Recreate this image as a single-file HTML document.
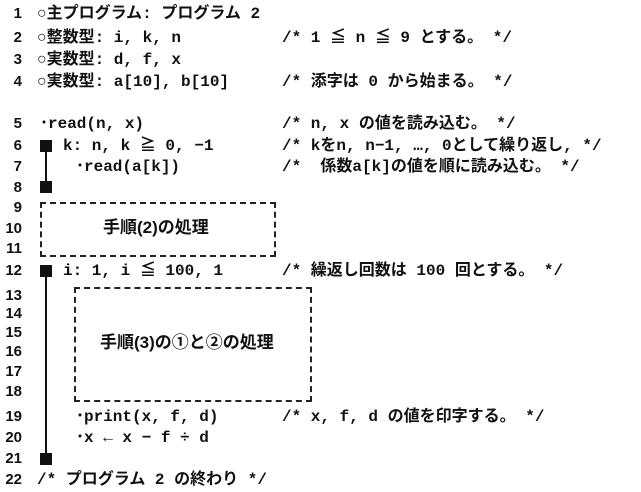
<!DOCTYPE html>
<html><head><meta charset="utf-8"><style>
body{margin:0;width:641px;height:492px;background:#fff;position:relative;overflow:hidden;font-family:"Liberation Mono","Noto Sans CJK JP",monospace;font-weight:bold;color:#111}
.t{position:absolute;font-size:16px;line-height:18px;white-space:pre}
.n{position:absolute;font-family:"Liberation Sans",sans-serif;font-size:15px;line-height:18px;width:22px;text-align:right;left:0}
.sq{position:absolute;left:40px;width:12px;height:12px;background:#111}
.v{position:absolute;left:45px;width:2px;background:#111}
.box{position:absolute;border:2px dashed #222}
.j{font-family:"Liberation Sans","Noto Sans CJK JP",sans-serif;font-size:17px}
</style></head><body>
<div class="n" style="top:5px">1</div>
<div class="n" style="top:29px">2</div>
<div class="n" style="top:51px">3</div>
<div class="n" style="top:73px">4</div>
<div class="n" style="top:115px">5</div>
<div class="n" style="top:137px">6</div>
<div class="n" style="top:158px">7</div>
<div class="n" style="top:179px">8</div>
<div class="n" style="top:199px">9</div>
<div class="n" style="top:220px">10</div>
<div class="n" style="top:240px">11</div>
<div class="n" style="top:262px">12</div>
<div class="n" style="top:287px">13</div>
<div class="n" style="top:305px">14</div>
<div class="n" style="top:324px">15</div>
<div class="n" style="top:343px">16</div>
<div class="n" style="top:363px">17</div>
<div class="n" style="top:383px">18</div>
<div class="n" style="top:408px">19</div>
<div class="n" style="top:429px">20</div>
<div class="n" style="top:450px">21</div>
<div class="n" style="top:471px">22</div>

<div class="t" style="left:37px;top:5px">○主プログラム: プログラム 2</div>
<div class="t" style="left:37px;top:29px">○整数型: i, k, n</div>
<div class="t" style="left:37px;top:51px">○実数型: d, f, x</div>
<div class="t" style="left:37px;top:73px">○実数型: a[10], b[10]</div>
<div class="t" style="left:282px;top:29px">/* 1 ≦ n ≦ 9 とする。 */</div>
<div class="t" style="left:282px;top:73px">/* 添字は 0 から始まる。 */</div>

<div class="t" style="left:40px;top:115px">･read(n, x)</div>
<div class="t" style="left:282px;top:115px">/* n, x の値を読み込む。 */</div>
<div class="sq" style="top:140px"></div><div class="v" style="top:146px;height:42px"></div><div class="sq" style="top:181px"></div>
<div class="t" style="left:63px;top:137px">k: n, k ≧ 0, −1</div>
<div class="t" style="left:282px;top:137px">/* kをn, n−1, …, 0として繰り返し, */</div>
<div class="t" style="left:76px;top:158px">･read(a[k])</div>
<div class="t" style="left:282px;top:158px">/*  係数a[k]の値を順に読み込む。 */</div>

<div class="box" style="left:40px;top:202px;width:232px;height:51px"></div>
<div class="t j" style="left:103px;top:219px">手順(2)の処理</div>

<div class="sq" style="top:265px"></div><div class="v" style="top:271px;height:188px"></div><div class="sq" style="top:453px"></div>
<div class="t" style="left:63px;top:262px">i: 1, i ≦ 100, 1</div>
<div class="t" style="left:282px;top:262px">/* 繰返し回数は 100 回とする。 */</div>

<div class="box" style="left:74px;top:287px;width:234px;height:111px"></div>
<div class="t j" style="left:100px;top:334px">手順(3)の①と②の処理</div>

<div class="t" style="left:76px;top:408px">･print(x, f, d)</div>
<div class="t" style="left:282px;top:408px">/* x, f, d の値を印字する。 */</div>
<div class="t" style="left:76px;top:429px">･x ← x − f ÷ d</div>
<div class="t" style="left:37px;top:471px">/* プログラム 2 の終わり */</div>
</body></html>
